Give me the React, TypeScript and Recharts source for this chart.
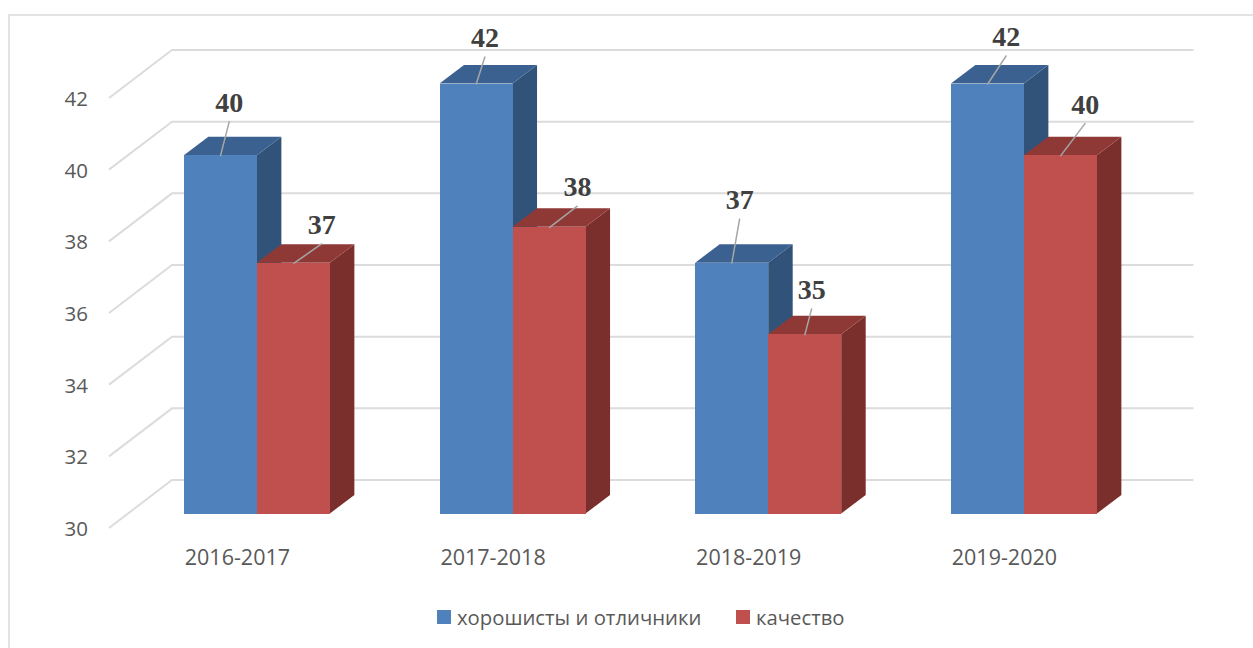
import { BarChart, Bar, XAxis, YAxis, CartesianGrid, Legend, LabelList } from 'recharts';

const years = ['2016-2017', '2017-2018', '2018-2019', '2019-2020'];
const goodStudents = [40, 42, 37, 42];
const quality = [37, 38, 35, 40];
const valueTicks = [30, 32, 34, 36, 38, 40, 42];

const chartData = years.map((year, i) => ({ year, goodStudents: goodStudents[i], quality: quality[i] }));

// leader line ends, relative to the middle of each bar's top edge
const blueLeaders = [[9, -34], [9, -27], [8, -44], [19, -28]];
const redLeaders = [[28.5, -19], [28.5, -21], [7, -26], [25, -32]];

// 3d look
const DEPTH_X = 24.5;
const DEPTH_Y = 18.5;
const BLUE_FACES = { front: '#4f81bd', top: '#3b6190', side: '#315379' };
const RED_FACES = { front: '#c0504d', top: '#8f3937', side: '#7a2f2d' };
const GRID_COLOR = '#dcdcdc';
const AXIS_COLOR = '#595959';
const AXIS_FONT = '"Open Sans", sans-serif';

const box3d = (faces: typeof BLUE_FACES) => (props: any) => {
  const { x, y, width, height } = props;
  const right = x + width;
  const bottom = y + height;
  return (
    <g>
      <polygon
        points={`${right},${y} ${right + DEPTH_X},${y - DEPTH_Y} ${right + DEPTH_X},${bottom - DEPTH_Y} ${right},${bottom}`}
        fill={faces.side}
      />
      <polygon
        points={`${x},${y} ${x + DEPTH_X},${y - DEPTH_Y} ${right + DEPTH_X},${y - DEPTH_Y} ${right},${y}`}
        fill={faces.top}
      />
      <rect x={x} y={y} width={width} height={height} fill={faces.front} shapeRendering="crispEdges" />
    </g>
  );
};

const leaderLabel = (leaders: number[][]) => (props: any) => {
  const { x, y, width, value, index } = props;
  const cx = x + width / 2;
  const [dx, dy] = leaders[index];
  return (
    <g>
      <line x1={cx} y1={y + 1} x2={cx + dx} y2={y + dy} stroke="#a6a6a6" strokeWidth={1.5} />
      <text
        x={cx + dx}
        y={y + dy - 9.5}
        textAnchor="middle"
        fontFamily='"Liberation Serif", serif'
        fontWeight="bold"
        fontSize={28}
        fill="#404040"
      >
        {value}
      </text>
    </g>
  );
};

// walls: a slanted piece from the axis, then the line along the back
const wallLine = (props: any) => {
  const { y1, key } = props;
  return (
    <path
      key={key}
      d={`M109,${y1 + 14.5} L172,${y1 - 33.5} L1193.5,${y1 - 33.5}`}
      fill="none"
      stroke={GRID_COLOR}
      strokeWidth={2}
    />
  );
};

const ValueTick = (props: any) => (
  <text x={88} y={props.y + 14.5} dy={8} textAnchor="end" fontFamily={AXIS_FONT} fontSize={20.5} fill={AXIS_COLOR}>
    {props.payload.value}
  </text>
);

const YearTick = (props: any) => (
  <text x={props.x - 19.3} y={props.y} dy={43} textAnchor="middle" fontFamily={AXIS_FONT} fontSize={21.5} fill={AXIS_COLOR}>
    {props.payload.value}
  </text>
);

const LegendRow = (props: any) => (
  <div style={{ position: 'relative', height: 24, fontFamily: AXIS_FONT, fontSize: 20.3, color: AXIS_COLOR }}>
    {(props.payload || []).map((item: any, i: number) => (
      <div
        key={item.value}
        style={{ position: 'absolute', left: i === 0 ? 437 : 736, top: 0, height: 24, display: 'flex', alignItems: 'center', whiteSpace: 'nowrap' }}
      >
        <span style={{ width: 14, height: 14, background: item.color, marginRight: 6 }} />
        {item.value}
      </div>
    ))}
  </div>
);

export default function App() {
  return (
    <div style={{ position: 'absolute', left: 0, top: 0, width: 1253, height: 648, overflow: 'hidden', background: '#fff' }}>
      <div style={{ position: 'absolute', left: 8, top: 14, width: 1400, height: 800, border: '2px solid #e3e3e3' }} />
      <BarChart
        width={1253}
        height={648}
        data={chartData}
        barSize={73}
        barGap={0}
        margin={{ top: 83.5, right: 101.46, bottom: 50.5, left: 0 }}
        style={{ position: 'absolute', left: 0, top: 0 }}
      >
        <CartesianGrid vertical={false} horizontal={wallLine} />
        <XAxis dataKey="year" axisLine={false} tickLine={false} interval={0} height={60} tick={YearTick} />
        <YAxis
          type="number"
          domain={[30, 42]}
          ticks={valueTicks}
          width={128.87}
          axisLine={false}
          tickLine={false}
          tick={ValueTick}
        />
        <Legend content={LegendRow} height={24} itemSorter="dataKey" wrapperStyle={{ left: 0, width: 1253, bottom: 19 }} />
        <Bar
          dataKey="goodStudents"
          name="хорошисты и отличники"
          fill={BLUE_FACES.front}
          shape={box3d(BLUE_FACES)}
          isAnimationActive={false}
        >
          <LabelList dataKey="goodStudents" content={leaderLabel(blueLeaders)} />
        </Bar>
        <Bar
          dataKey="quality"
          name="качество"
          fill={RED_FACES.front}
          shape={box3d(RED_FACES)}
          isAnimationActive={false}
        >
          <LabelList dataKey="quality" content={leaderLabel(redLeaders)} />
        </Bar>
      </BarChart>
    </div>
  );
}
